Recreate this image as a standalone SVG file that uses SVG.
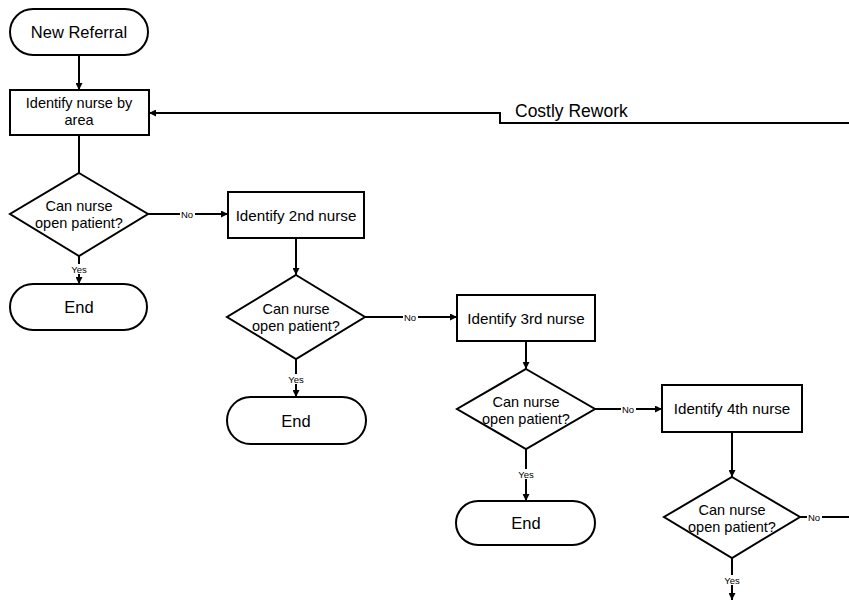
<svg xmlns="http://www.w3.org/2000/svg" width="849" height="601" viewBox="0 0 849 601">
<defs>
<marker id="ah" viewBox="0 0 10 10" refX="10" refY="5" markerWidth="7" markerHeight="7" markerUnits="userSpaceOnUse" orient="auto"><path d="M0,0 L10,5 L0,10 z" fill="#000"/></marker>
<style>
.s{fill:#fff;stroke:#000;stroke-width:2}
.c{fill:none;stroke:#000;stroke-width:2}
.t{font-family:"Liberation Sans",Arial,sans-serif;fill:#000;text-anchor:middle}
.big{font-size:16.5px}
.mid{font-size:15.2px}
.two{font-size:14.5px}
.dia{font-size:14.5px}
.lbl{font-size:9.5px}
.bg{fill:#fff}
</style>
</defs>
<rect width="849" height="601" fill="#fff"/>
<g id="connectors">
<path class="c" d="M79,55 V90" marker-end="url(#ah)"/>
<path class="c" d="M849,123 H500 V113 H149" marker-end="url(#ah)"/>
<path class="c" d="M79,135 V173"/>
<path class="c" d="M148,214 H228" marker-end="url(#ah)"/>
<path class="c" d="M79,256 V284" marker-end="url(#ah)"/>
<path class="c" d="M296,238 V275" marker-end="url(#ah)"/>
<path class="c" d="M365,317 H457" marker-end="url(#ah)"/>
<path class="c" d="M296,359 V397" marker-end="url(#ah)"/>
<path class="c" d="M526,341 V369" marker-end="url(#ah)"/>
<path class="c" d="M595,409 H662" marker-end="url(#ah)"/>
<path class="c" d="M526,449 V501" marker-end="url(#ah)"/>
<path class="c" d="M732,432 V477" marker-end="url(#ah)"/>
<path class="c" d="M800,517 H849"/>
<path class="c" d="M732,558 V600" marker-end="url(#ah)"/>
<rect class="bg" x="180" y="209" width="15" height="10"/>
<text class="t lbl" x="187" y="217.5">No</text>
<rect class="bg" x="68" y="264" width="22" height="10"/>
<text class="t lbl" x="79" y="272.5">Yes</text>
<rect class="bg" x="403" y="312" width="15" height="10"/>
<text class="t lbl" x="410" y="320.5">No</text>
<rect class="bg" x="285" y="374" width="22" height="10"/>
<text class="t lbl" x="296" y="382.5">Yes</text>
<rect class="bg" x="621" y="404" width="15" height="10"/>
<text class="t lbl" x="628" y="412.5">No</text>
<rect class="bg" x="515" y="469" width="22" height="10"/>
<text class="t lbl" x="526" y="477.5">Yes</text>
<rect class="bg" x="807" y="512" width="15" height="10"/>
<text class="t lbl" x="814" y="520.5">No</text>
<rect class="bg" x="721" y="575" width="22" height="10"/>
<text class="t lbl" x="732" y="583.5">Yes</text>
<text class="t" style="font-size:17.5px;text-anchor:start" x="515" y="117">Costly Rework</text>
</g>
<g id="start">
<rect class="s" x="10" y="9" width="138" height="46" rx="23"/>
<text class="t big" x="79" y="37.5">New Referral</text>
</g>
<g id="identify1">
<rect class="s" x="10" y="90" width="139" height="45"/>
<text class="t two" x="79" y="108">Identify nurse by</text>
<text class="t two" x="79" y="125">area</text>
</g>
<g id="decision1">
<polygon class="s" points="79,173 148,214 79,256 10,214"/>
<text class="t dia" x="79" y="211">Can nurse</text>
<text class="t dia" x="79" y="228">open patient?</text>
</g>
<g id="end1">
<rect class="s" x="10" y="284" width="137" height="46" rx="23"/>
<text class="t big" x="79" y="313">End</text>
</g>
<g id="identify2">
<rect class="s" x="228" y="192" width="136" height="46"/>
<text class="t mid" x="296" y="220.5">Identify 2nd nurse</text>
</g>
<g id="decision2">
<polygon class="s" points="296,275 365,317 296,359 227,317"/>
<text class="t dia" x="296" y="314">Can nurse</text>
<text class="t dia" x="296" y="331">open patient?</text>
</g>
<g id="end2">
<rect class="s" x="227" y="397" width="139" height="47" rx="23.5"/>
<text class="t big" x="296" y="426.5">End</text>
</g>
<g id="identify3">
<rect class="s" x="457" y="295" width="138" height="46"/>
<text class="t mid" x="526" y="323.5">Identify 3rd nurse</text>
</g>
<g id="decision3">
<polygon class="s" points="526,369 595,409 526,449 457,409"/>
<text class="t dia" x="526" y="406.5">Can nurse</text>
<text class="t dia" x="526" y="423.5">open patient?</text>
</g>
<g id="end3">
<rect class="s" x="456" y="501" width="139" height="44" rx="22"/>
<text class="t big" x="526" y="528.5">End</text>
</g>
<g id="identify4">
<rect class="s" x="662" y="385" width="140" height="47"/>
<text class="t mid" x="732" y="413.5">Identify 4th nurse</text>
</g>
<g id="decision4">
<polygon class="s" points="732,477 800,517 732,558 664,517"/>
<text class="t dia" x="732" y="514.5">Can nurse</text>
<text class="t dia" x="732" y="531.5">open patient?</text>
</g>
</svg>
